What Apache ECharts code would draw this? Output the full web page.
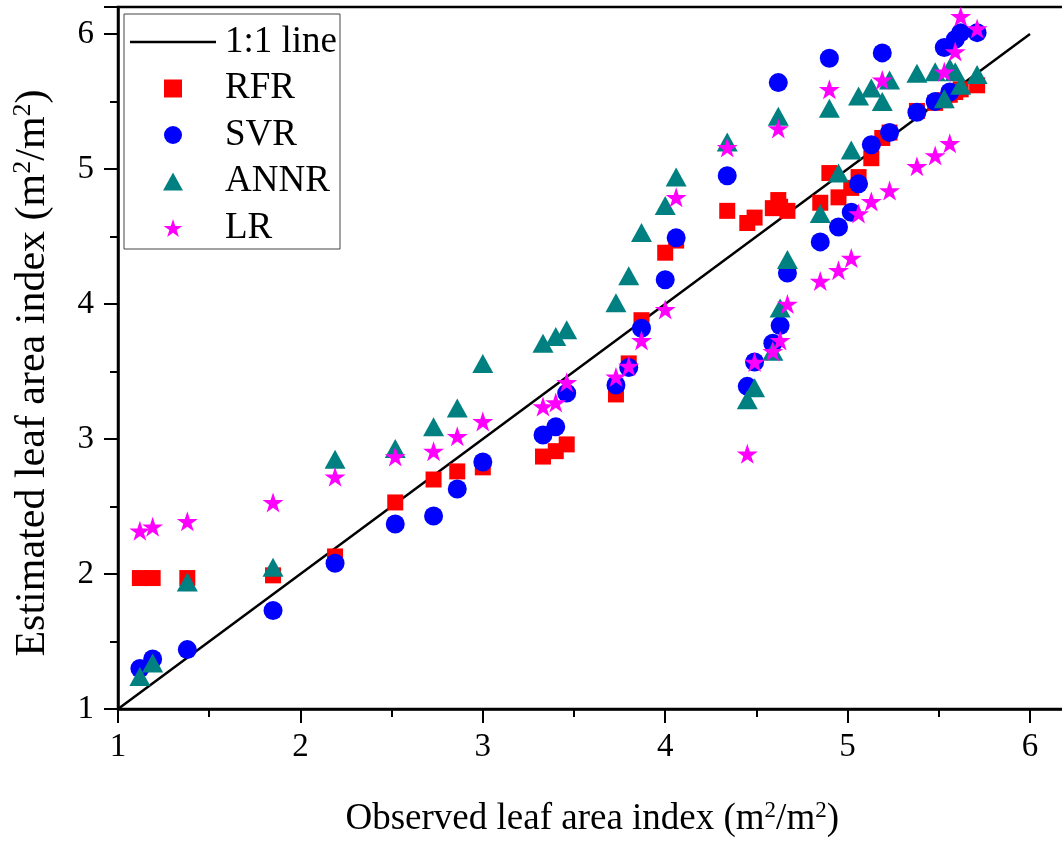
<!DOCTYPE html>
<html>
<head>
<meta charset="utf-8">
<script src="https://cdn.jsdelivr.net/npm/echarts@6/dist/echarts.min.js"></script>
<style>
html,body{margin:0;padding:0;background:#fff;overflow:hidden;width:1062px;height:841px;}
#chart{width:1120px;height:841px;}
</style>
</head>
<body>
<div id="chart"></div>
<script>
// Observed LAI (shared x values)
const observed = [1.12,1.19,1.38,1.85,2.19,2.52,2.73,2.86,3.00,3.33,3.40,3.46,3.73,3.80,3.87,4.00,4.06,4.34,4.45,4.49,4.59,4.62,4.63,4.67,4.85,4.90,4.95,5.02,5.06,5.13,5.19,5.23,5.38,5.48,5.53,5.56,5.59,5.62,5.71];
// Estimated LAI per model
const rfr  = [1.97,1.97,1.97,1.99,2.13,2.53,2.70,2.76,2.79,2.87,2.91,2.96,3.33,3.56,3.88,4.38,4.47,4.69,4.60,4.64,4.71,4.77,4.72,4.69,4.75,4.97,4.79,4.86,4.94,5.08,5.23,5.27,5.43,5.49,5.51,5.55,5.57,5.59,5.62];
const svr  = [1.30,1.37,1.44,1.73,2.08,2.37,2.43,2.63,2.83,3.03,3.09,3.34,3.40,3.53,3.82,4.18,4.49,4.95,3.39,3.57,3.71,5.64,3.84,4.23,4.46,5.82,4.57,4.68,4.89,5.18,5.86,5.27,5.42,5.50,5.90,5.57,5.96,6.01,6.01];
const annr = [1.24,1.34,1.94,2.05,2.85,2.93,3.09,3.23,3.56,3.71,3.76,3.81,4.01,4.21,4.53,4.73,4.94,5.20,3.29,3.38,3.65,5.39,3.97,4.33,4.67,5.45,4.97,5.14,5.54,5.60,5.50,5.66,5.71,5.72,5.52,5.75,5.72,5.62,5.70];
const lr   = [2.32,2.35,2.39,2.53,2.72,2.87,2.91,3.02,3.13,3.24,3.27,3.42,3.46,3.54,3.73,3.96,4.79,5.16,2.89,3.57,3.65,5.30,3.73,4.00,4.17,5.59,4.25,4.34,4.67,4.76,5.66,4.84,5.02,5.10,5.72,5.19,5.87,6.13,6.04];
const oneToOne = [[1,1],[6,6]];
const seriesNames = ['1:1 line','RFR','SVR','ANNR','LR'];
const xTitle = 'Observed leaf area index (m{sup|2}/m{sup|2})';
const yTitle = 'Estimated leaf area index (m{sup|2}/m{sup|2})';

const pair = (ys) => observed.map((x,i) => [x, ys[i]]);
const FONT = 'Liberation Serif';
const starPath = 'path://M100,0 L122.45,69.1 L195.11,69.1 L136.33,111.8 L158.78,180.9 L100,138.2 L41.22,180.9 L63.67,111.8 L4.89,69.1 L77.55,69.1 Z';
const squarePath = 'path://M0,0 L10,0 L10,10 L0,10 Z';
const trianglePath = 'path://M10.5,0 L21,19 L0,19 Z';
const linePath = 'path://M0,0 L86,0 L86,2.5 L0,2.5 Z';

function titleStyle(size, pad) {
  return {
    fontFamily: FONT, fontSize: size, color: '#000', lineHeight: size + 4, padding: pad,
    rich: {sup: {fontFamily: FONT, fontSize: Math.round(size * 0.62), color: '#000', lineHeight: Math.round(size * 0.62), verticalAlign: 'top'}}
  };
}

const axisCommon = {
  min: 1, max: 6.2, interval: 1,
  axisLine: {show: true, lineStyle: {color: '#000', width: 2.5}},
  axisTick: {show: true, inside: false, length: 14, lineStyle: {color: '#000', width: 2}},
  minorTick: {show: true, splitNumber: 2, length: 8, lineStyle: {color: '#000', width: 2}},
  splitLine: {show: false},
  minorSplitLine: {show: false},
  nameLocation: 'middle',
  axisLabel: {fontFamily: FONT, fontSize: 33, color: '#000', showMaxLabel: false}
};

const chart = echarts.init(document.getElementById('chart'), null, {renderer: 'canvas'});
chart.setOption({
  backgroundColor: '#fff',
  animation: false,
  grid: {left: 118, top: 7, width: 948.5, height: 702, outerBoundsMode: 'none', containLabel: false, show: true, borderColor: '#000', borderWidth: 2.5, backgroundColor: 'transparent'},
  xAxis: Object.assign({}, axisCommon, {
    type: 'value', name: xTitle, nameGap: 90,
    nameTextStyle: titleStyle(37, 0),
    axisLabel: Object.assign({}, axisCommon.axisLabel, {margin: 22})
  }),
  yAxis: Object.assign({}, axisCommon, {
    type: 'value', name: yTitle, nameGap: 62,
    nameTextStyle: titleStyle(42, [0, 30, 0, 0]),
    axisLabel: Object.assign({}, axisCommon.axisLabel, {margin: 24})
  }),
  legend: {
    orient: 'vertical', left: 124, top: 14,
    data: [
      {name: seriesNames[0], icon: linePath},
      {name: seriesNames[1], icon: squarePath},
      {name: seriesNames[2], icon: 'circle'},
      {name: seriesNames[3], icon: trianglePath},
      {name: seriesNames[4], icon: starPath}
    ],
    itemWidth: 86, itemHeight: 18, itemGap: 6.5,
    symbolKeepAspect: true,
    padding: [8, 3, 1, 6],
    borderColor: '#444', borderWidth: 1,
    textStyle: {fontFamily: FONT, fontSize: 37, color: '#000', lineHeight: 40, padding: [0, 0, 0, 4]}
  },
  series: [
    {name: seriesNames[0], type: 'line', data: oneToOne, symbol: 'none', lineStyle: {color: '#000', width: 2.5}, itemStyle: {color: '#000'}, z: 1},
    {name: seriesNames[1], type: 'scatter', data: pair(rfr), symbol: squarePath, symbolSize: 16, itemStyle: {color: '#ff0000', opacity: 1}, z: 2},
    {name: seriesNames[2], type: 'scatter', data: pair(svr), symbol: 'circle', symbolSize: 19, itemStyle: {color: '#0000ff', opacity: 1}, z: 3},
    {name: seriesNames[3], type: 'scatter', data: pair(annr), symbol: trianglePath, symbolSize: [21, 19], itemStyle: {color: '#008080', opacity: 1}, z: 4},
    {name: seriesNames[4], type: 'scatter', data: pair(lr), symbol: starPath, symbolSize: [21, 20], itemStyle: {color: '#ff00ff', opacity: 1}, z: 5}
  ]
});
</script>
</body>
</html>
